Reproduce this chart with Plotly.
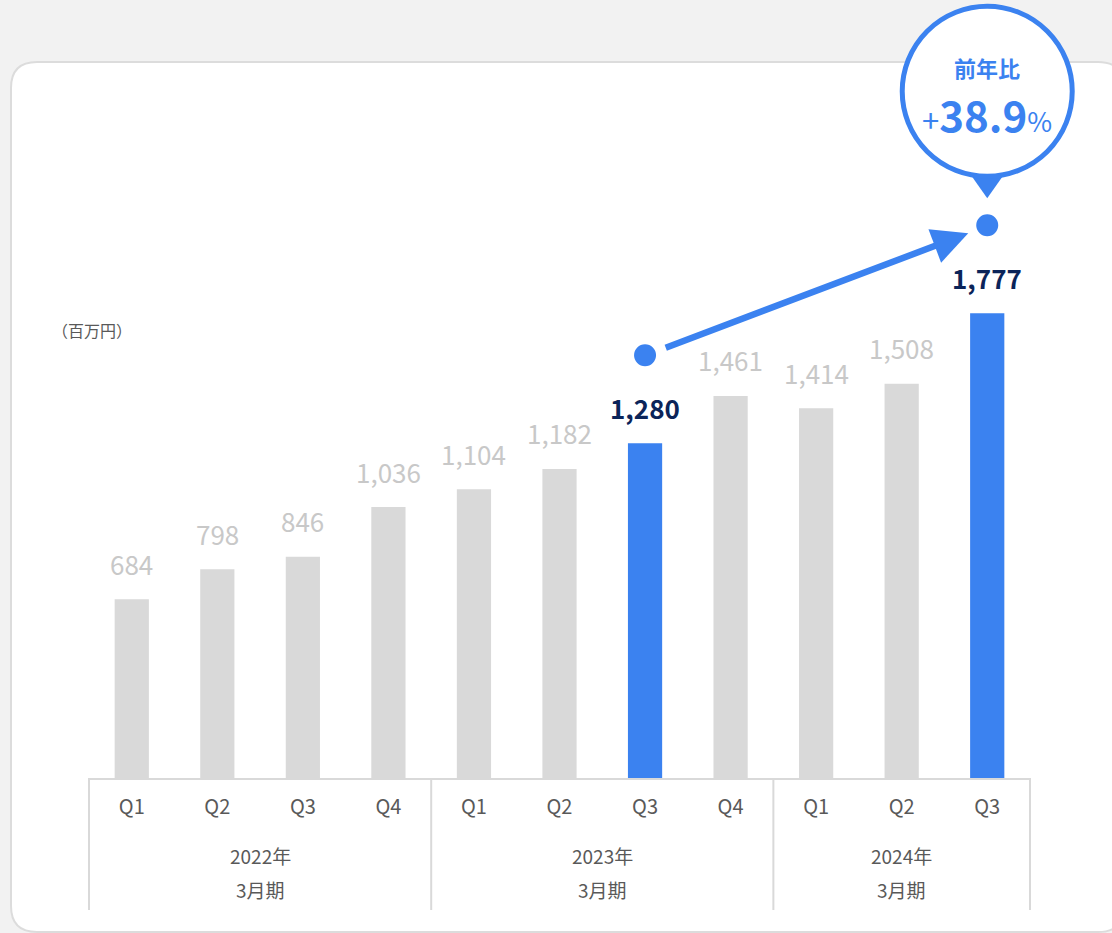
import plotly.graph_objects as go

# Quarterly revenue (million yen) by fiscal year ending in March
fiscal_years = ["2022年", "2023年", "2024年"]
period_label = "3月期"
quarters_per_year = [["Q1", "Q2", "Q3", "Q4"], ["Q1", "Q2", "Q3", "Q4"], ["Q1", "Q2", "Q3"]]
revenue = [684, 798, 846, 1036, 1104, 1182, 1280, 1461, 1414, 1508, 1777]
highlight = [False, False, False, False, False, False, True, False, False, False, True]
yoy_label = "38.9"
unit_label = "（百万円）"

W, H = 1112, 933
BLUE = "#3b82f0"
GREY_BAR = "#d9d9d9"
NAVY = "#0b2459"
TICK_GREY = "#595959"
FONT = "Noto Sans CJK JP"

# plot-area geometry (pixels) and value range
PLOT_L, PLOT_R, PLOT_B = 89, 1030, 778
Y_MAX = 2975

inner = [q for qs in quarters_per_year for q in qs]
xs = list(range(len(inner)))
colors = [BLUE if h else GREY_BAR for h in highlight]
X_RANGE = [-0.5, len(xs) - 0.5]


def px_x(p):
    return p / W


def px_y(p):
    return 1 - p / H


def x_to_paper(x):
    frac = (x - X_RANGE[0]) / (X_RANGE[1] - X_RANGE[0])
    return px_x(PLOT_L + frac * (PLOT_R - PLOT_L))


def y_to_paper(v):
    return px_y(PLOT_B - v / Y_MAX * PLOT_B)


fig = go.Figure()
fig.add_trace(go.Bar(
    x=xs, y=revenue,
    marker=dict(color=colors, line=dict(width=0)),
    width=0.4, hoverinfo="skip",
))

# rounded white card behind the chart
cx0, cy0, cx1, cy1, r = 11, 62, 1124, 932, 26
rx, ry = r / W, r / H
X0, X1, Y0, Y1 = px_x(cx0), px_x(cx1), px_y(cy1), px_y(cy0)
card = (f"M {X0+rx},{Y1} L {X1-rx},{Y1} Q {X1},{Y1} {X1},{Y1-ry} "
        f"L {X1},{Y0+ry} Q {X1},{Y0} {X1-rx},{Y0} L {X0+rx},{Y0} "
        f"Q {X0},{Y0} {X0},{Y0+ry} L {X0},{Y1-ry} Q {X0},{Y1} {X0+rx},{Y1} Z")

shapes = [dict(type="path", xref="paper", yref="paper", path=card,
               fillcolor="white", line=dict(color="#dcdcdc", width=2), layer="below")]

annotations = []

# group dividers and fiscal-year labels under the quarter ticks
start = 0
bounds = [-0.5]
for fy, qs in zip(fiscal_years, quarters_per_year):
    end = start + len(qs) - 1
    mid = (start + end) / 2
    annotations.append(dict(x=mid, y=px_y(855), xref="x", yref="paper", text=fy,
                            showarrow=False, xanchor="center", yanchor="middle",
                            font=dict(family=FONT, size=19, color=TICK_GREY)))
    annotations.append(dict(x=mid, y=px_y(889), xref="x", yref="paper", text=period_label,
                            showarrow=False, xanchor="center", yanchor="middle",
                            font=dict(family=FONT, size=19, color=TICK_GREY)))
    start = end + 1
    bounds.append(end + 0.5)
for b in bounds:
    shapes.append(dict(type="line", xref="paper", yref="paper", x0=x_to_paper(b), x1=x_to_paper(b),
                       y0=px_y(778), y1=px_y(910), line=dict(color="#d9d9d9", width=2)))

# value labels
for i, (v, h) in enumerate(zip(revenue, highlight)):
    annotations.append(dict(
        x=i, y=v, xref="x", yref="y", text=f"{v:,}", showarrow=False,
        yshift=36, xanchor="center", yanchor="middle",
        font=dict(family=FONT, size=26, color=NAVY if h else "#c8c8c8",
                  weight="bold" if h else "normal"),
    ))

# markers above the two highlighted quarters
hl = [i for i, h in enumerate(highlight) if h]
for i in hl:
    shapes.append(dict(type="circle", xref="x", yref="y", xsizemode="pixel", ysizemode="pixel",
                       xanchor=i, yanchor=revenue[i], x0=-11, x1=11, y0=77, y1=99,
                       fillcolor=BLUE, line=dict(width=0)))

# growth arrow between the highlighted quarters
last = hl[-1]
annotations.append(dict(
    x=last, y=revenue[last], xref="x", yref="y", text="", showarrow=True,
    xshift=-19, yshift=80, ax=-304, ay=115,
    arrowcolor=BLUE, arrowwidth=6.5, arrowhead=2, arrowsize=1.1, standoff=0,
))

# year-over-year speech bubble (paper-anchored so it may extend past the plot area)
bx, by = x_to_paper(last), y_to_paper(revenue[last])
shapes.append(dict(type="path", xref="paper", yref="paper", xsizemode="pixel", ysizemode="pixel",
                   xanchor=bx, yanchor=by,
                   path="M -19,142 L 19,142 L 0,115 Z", fillcolor=BLUE, line=dict(width=0)))
shapes.append(dict(type="circle", xref="paper", yref="paper", xsizemode="pixel", ysizemode="pixel",
                   xanchor=bx, yanchor=by, x0=-85, x1=85, y0=137, y1=307,
                   fillcolor="white", line=dict(color=BLUE, width=5)))
annotations.append(dict(
    x=bx, y=by, xref="paper", yref="paper", text="<b>前年比</b>", showarrow=False,
    yshift=246, xanchor="center", yanchor="middle",
    font=dict(family=FONT, size=22, color=BLUE),
))
annotations.append(dict(
    x=bx, y=by, xref="paper", yref="paper",
    text=(f"<span style='font-size:31px'>+</span><b>{yoy_label}</b>"
          f"<span style='font-size:27px'>%</span>"),
    showarrow=False, yshift=200, xanchor="center", yanchor="middle",
    font=dict(family=FONT, size=42, color=BLUE),
))

annotations.append(dict(
    x=px_x(50), y=px_y(330), xref="paper", yref="paper", text=unit_label,
    showarrow=False, xanchor="left", yanchor="middle",
    font=dict(family=FONT, size=16, color=TICK_GREY),
))

fig.update_layout(
    width=W, height=H,
    margin=dict(l=0, r=0, t=0, b=0),
    paper_bgcolor="#f2f2f2", plot_bgcolor="rgba(0,0,0,0)",
    showlegend=False,
    shapes=shapes, annotations=annotations,
    xaxis=dict(
        domain=[px_x(PLOT_L), px_x(PLOT_R)], range=X_RANGE,
        tickmode="array", tickvals=xs, ticktext=inner,
        showline=True, linecolor="#d9d9d9", linewidth=2,
        showgrid=False, zeroline=False, ticks="",
        tickfont=dict(family=FONT, size=20, color=TICK_GREY),
        ticklabelstandoff=10, fixedrange=True,
    ),
    yaxis=dict(
        domain=[1 - PLOT_B / H, 1], range=[0, Y_MAX],
        visible=False, showgrid=False, zeroline=False, fixedrange=True,
    ),
)

fig.write_html("out.html", config={"displayModeBar": False})
